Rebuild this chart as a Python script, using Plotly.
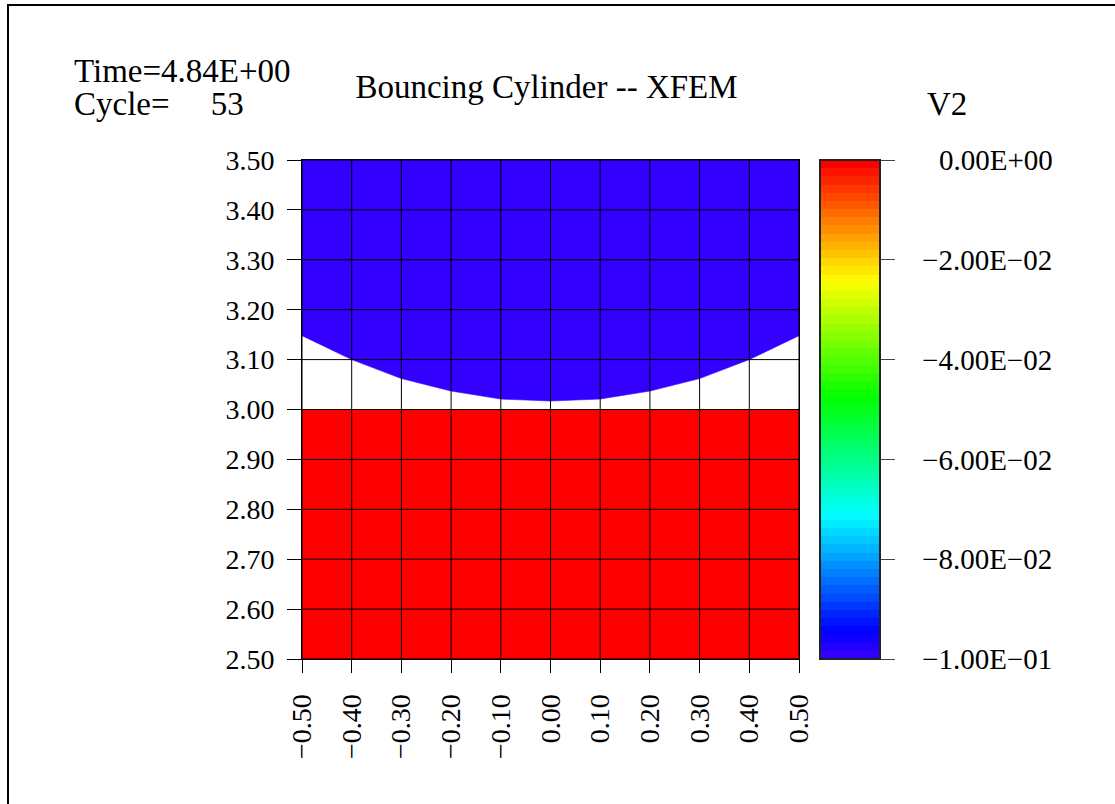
import colorsys
import plotly.graph_objects as go

# ---------------- data ----------------
x_ticks = [-0.5, -0.4, -0.3, -0.2, -0.1, 0.0, 0.1, 0.2, 0.3, 0.4, 0.5]
x_tick_text = ["\u22120.50", "\u22120.40", "\u22120.30", "\u22120.20", "\u22120.10",
               "0.00", "0.10", "0.20", "0.30", "0.40", "0.50"]
y_ticks = [2.5, 2.6, 2.7, 2.8, 2.9, 3.0, 3.1, 3.2, 3.3, 3.4, 3.5]
y_tick_text = ["2.50", "2.60", "2.70", "2.80", "2.90", "3.00",
               "3.10", "3.20", "3.30", "3.40", "3.50"]

# cylinder lower boundary
cyl_x = [-0.5, -0.4, -0.3, -0.2, -0.1, 0.0, 0.1, 0.2, 0.3, 0.4, 0.5]
cyl_y = [3.148, 3.100, 3.062, 3.037, 3.021, 3.017, 3.021, 3.037, 3.062, 3.100, 3.148]
cyl_v2 = -0.1          # V2 value of cylinder
ground_top = 3.0
ground_v2 = 0.0        # V2 value of ground

cbar_vals = [0.0, -0.02, -0.04, -0.06, -0.08, -0.1]
cbar_text = ["0.00E+00", "\u22122.00E\u221202", "\u22124.00E\u221202",
             "\u22126.00E\u221202", "\u22128.00E\u221202", "\u22121.00E\u221201"]
v_min, v_max = -0.1, 0.0

time_text = "Time=4.84E+00"
cycle_text = "Cycle=\u00a0\u00a0\u00a0\u00a0\u00a053"
title_text = "Bouncing Cylinder -- XFEM"
var_name = "V2"

# ---------------- banded rainbow colorscale ----------------
n_bands = 61
band_colors = []
for i in range(n_bands):
    hue = 252.0 * (1 - i / (n_bands - 1))
    r, g, b = colorsys.hsv_to_rgb(hue / 360.0, 1, 1)
    band_colors.append(f"rgb({round(r*255)},{round(g*255)},{round(b*255)})")
colorscale = []
for i, c in enumerate(band_colors):
    colorscale.append([i / n_bands, c])
    colorscale.append([(i + 1) / n_bands, c])

def color_of(v):
    t = (v - v_min) / (v_max - v_min)
    idx = min(int(t * n_bands), n_bands - 1)
    return band_colors[idx]

# right-align colorbar labels (pad the ones without a leading minus) and
# push them away from the ticks a little
def cbar_label(t):
    pad = "\u2002\u2005"
    if not t.startswith("\u2212"):
        pad += "\u2007\u200a"
    return pad + t

FONT = "Liberation Serif"
fig = go.Figure()

x0, x1 = x_ticks[0], x_ticks[-1]
y0, y1 = y_ticks[0], y_ticks[-1]

# ground (red)
fig.add_trace(go.Scatter(
    x=[x0, x1, x1, x0, x0], y=[y0, y0, ground_top, ground_top, y0],
    mode="lines", fill="toself", fillcolor=color_of(ground_v2),
    line=dict(width=0), hoverinfo="skip", showlegend=False))

# cylinder (blue)
fig.add_trace(go.Scatter(
    x=cyl_x + [x1, x0, cyl_x[0]], y=cyl_y + [y1, y1, cyl_y[0]],
    mode="lines", fill="toself", fillcolor=color_of(cyl_v2),
    line=dict(width=0.6, color=color_of(cyl_v2)), hoverinfo="skip", showlegend=False))

# mesh grid lines on top
gx, gy = [], []
for xv in x_ticks:
    gx += [xv, xv, None]
    gy += [y0, y1, None]
for yv in y_ticks:
    gx += [x0, x1, None]
    gy += [yv, yv, None]
fig.add_trace(go.Scatter(x=gx, y=gy, mode="lines",
                         line=dict(color="black", width=1),
                         hoverinfo="skip", showlegend=False))

# colorbar carrier
fig.add_trace(go.Scatter(
    x=[None] * len(cbar_vals), y=[None] * len(cbar_vals), mode="markers",
    marker=dict(color=cbar_vals, colorscale=colorscale, cmin=v_min, cmax=v_max,
                size=0, showscale=True,
                colorbar=dict(
                    x=(820 - 302) / 497, xanchor="left", xpad=0, ypad=0,
                    y=0.5, yanchor="middle", len=1, lenmode="fraction",
                    thickness=60, thicknessmode="pixels",
                    outlinecolor="#222222", outlinewidth=2,
                    tickmode="array", tickvals=cbar_vals,
                    ticktext=[cbar_label(t) for t in cbar_text],
                    ticks="outside", ticklen=14, tickcolor="#444444", tickwidth=1,
                    tickfont=dict(family=FONT, size=29, color="black"))),
    hoverinfo="skip", showlegend=False))

fig.update_layout(
    width=1115, height=804, template="none",
    margin=dict(l=302, r=316, t=160, b=145, pad=0),
    paper_bgcolor="white", plot_bgcolor="white",
    title=dict(text=title_text, x=(546.5 - 302) / 497, xref="paper", xanchor="center",
               y=1 - 86.2 / 804, yref="container", yanchor="middle",
               font=dict(family=FONT, size=33, color="black")),
    xaxis=dict(range=[x0, x1], tickmode="array", tickvals=x_ticks, ticktext=x_tick_text,
               tickangle=-90, ticks="outside", ticklen=13, tickcolor="black",
               tickfont=dict(family=FONT, size=28, color="black"),
               ticklabelstandoff=10,
               showgrid=False, zeroline=False, showline=True, linecolor="black",
               linewidth=1, mirror=True, automargin=False),
    yaxis=dict(range=[y0, y1], tickmode="array", tickvals=y_ticks, ticktext=y_tick_text,
               ticks="outside", ticklen=14, tickcolor="black",
               tickfont=dict(family=FONT, size=28, color="black"),
               ticklabelstandoff=7,
               showgrid=False, zeroline=False, showline=True, linecolor="black",
               linewidth=1, mirror=True, automargin=False),
    showlegend=False,
)

ann_font = dict(family=FONT, size=33, color="black")
fig.add_annotation(text=time_text, xref="paper", yref="paper",
                   x=(72 - 302) / 497, y=(659 - 71.2) / 499,
                   xanchor="left", yanchor="middle", showarrow=False, font=ann_font)
fig.add_annotation(text=cycle_text, xref="paper", yref="paper",
                   x=(72 - 302) / 497, y=(659 - 104.2) / 499,
                   xanchor="left", yanchor="middle", showarrow=False, font=ann_font)
fig.add_annotation(text=var_name, xref="paper", yref="paper",
                   x=(925 - 302) / 497, y=(659 - 104.2) / 499,
                   xanchor="left", yanchor="middle", showarrow=False, font=ann_font)

# outer frame
fig.add_shape(type="rect", xref="paper", yref="paper",
              x0=(8 - 302) / 497, x1=(1140 - 302) / 497,
              y0=(659 - 830) / 499, y1=(659 - 5) / 499,
              line=dict(color="black", width=2), fillcolor="rgba(0,0,0,0)", layer="above")

fig.write_html("out.html")
